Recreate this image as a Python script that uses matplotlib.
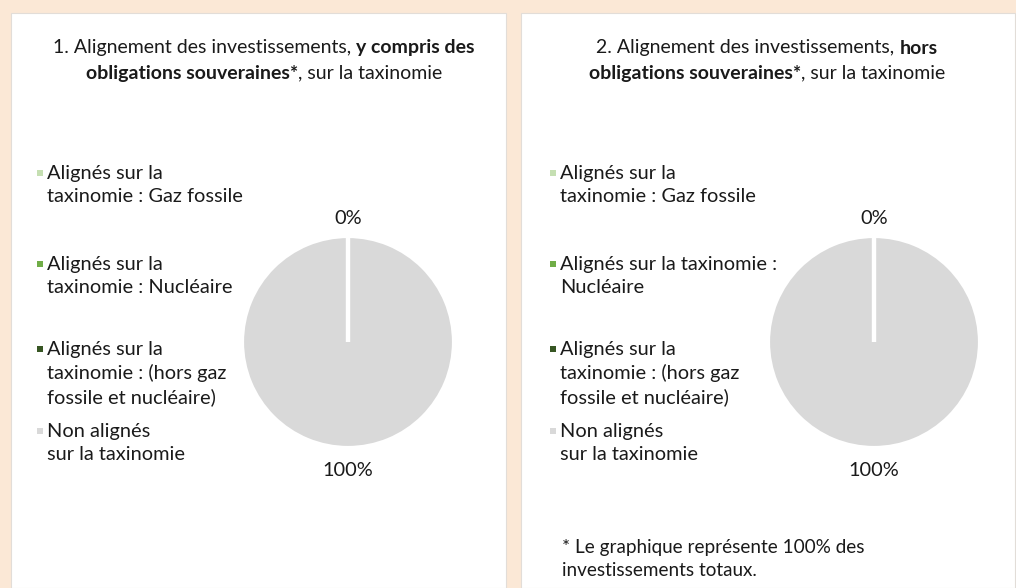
import matplotlib
matplotlib.use("Agg")
import matplotlib.pyplot as plt
from matplotlib.patches import Rectangle

# ---- data ----
categories = [
    "Alignés sur la\ntaxinomie : Gaz fossile",
    "Alignés sur la\ntaxinomie : Nucléaire",
    "Alignés sur la\ntaxinomie : (hors gaz\nfossile et nucléaire)",
    "Non alignés\nsur la taxinomie",
]
categories_right = [
    "Alignés sur la\ntaxinomie : Gaz fossile",
    "Alignés sur la taxinomie :\nNucléaire",
    "Alignés sur la\ntaxinomie : (hors gaz\nfossile et nucléaire)",
    "Non alignés\nsur la taxinomie",
]
values_incl_sovereign = [0, 0, 0, 100]
values_excl_sovereign = [0, 0, 0, 100]
colors = ["#c5dfb2", "#70ad47", "#375623", "#d9d9d9"]

title1 = [[("1. Alignement des investissements, ", "normal"), ("y compris des", "bold")],
          [("obligations souveraines*", "bold"), (", sur la taxinomie", "normal")]]
title2 = [[("2. Alignement des investissements, ", "normal"), ("hors", "bold")],
          [("obligations souveraines*", "bold"), (", sur la taxinomie", "normal")]]
footnote = "* Le graphique représente 100% des\ninvestissements totaux."

W, H = 1016, 588
FONT = "Lato"
FS = 14.0
FS_LEG = 14.4

fig = plt.figure(figsize=(W / 100, H / 100), dpi=100)
fig.patch.set_facecolor("#fbe8d6")

def px(x, y):
    return x / W, 1 - y / H

# panels
for (x0, x1) in [(11, 506), (521, 1015)]:
    fig.patches.append(Rectangle(px(x0, 588), (x1 - x0) / W, (588 - 13) / H,
                                 transform=fig.transFigure, facecolor="white",
                                 edgecolor="#e2ddd8", linewidth=0.8, zorder=-5))

renderer = fig.canvas.get_renderer()

def mixed_line(segments, cx, y):
    widths = []
    for txt, w in segments:
        t = fig.text(0, 0, txt, fontsize=FS, fontweight=w, family=FONT)
        bb = t.get_window_extent(renderer=renderer)
        widths.append(bb.width)
        t.remove()
    total = sum(widths)
    x = cx - total / 2
    for (txt, w), wd in zip(segments, widths):
        fig.text(x / W, 1 - y / H, txt, fontsize=FS, fontweight=w, family=FONT,
                 va="center", ha="left", color="#1a1a1a")
        x += wd

for lines, cx in [(title1, 264), (title2, 767)]:
    for i, seg in enumerate(lines):
        mixed_line(seg, cx, 48 + i * 25)

# legends
item_y = [173, 264, 349, 431]
for labels, mx in [(categories, 37), (categories_right, 550)]:
    for lab, col, y in zip(labels, colors, item_y):
        fig.patches.append(Rectangle(px(mx, y + 3), 6 / W, 6 / H,
                                     transform=fig.transFigure, facecolor=col,
                                     edgecolor="none", zorder=1))
        fig.text((mx + 10) / W, 1 - (y - 8) / H, lab, fontsize=FS_LEG, family=FONT,
                 va="top", ha="left", color="#1a1a1a", linespacing=1.42)

# pies
R = 106
for vals, cx in [(values_incl_sovereign, 348), (values_excl_sovereign, 874)]:
    ax = fig.add_axes([(cx - R) / W, 1 - (342 + R) / H, 2 * R / W, 2 * R / H])
    wedges, _ = ax.pie(vals, colors=colors, startangle=90, counterclock=False,
                       wedgeprops=dict(edgecolor="white", linewidth=3))
    for w, v in zip(wedges, vals):
        if v == 0:
            w.set_zorder(5)
    ax.set_aspect("equal")
    ax.set_xlim(-1.0, 1.0)
    ax.set_ylim(-1.0, 1.0)
    ax.axis("off")
    zero_total = sum(vals[:3])
    fig.text(cx / W, 1 - 218 / H, f"{zero_total:.0f}%", fontsize=FS_LEG, family=FONT,
             ha="center", va="center", color="#1a1a1a")
    fig.text(cx / W, 1 - 470 / H, f"{vals[3]:.0f}%", fontsize=FS_LEG, family=FONT,
             ha="center", va="center", color="#1a1a1a")

fig.text(562 / W, 1 - 539 / H, footnote, fontsize=13.6, family=FONT, va="top",
         ha="left", color="#1a1a1a", linespacing=1.42)

fig.savefig("out.png", dpi=100, facecolor=fig.get_facecolor())
